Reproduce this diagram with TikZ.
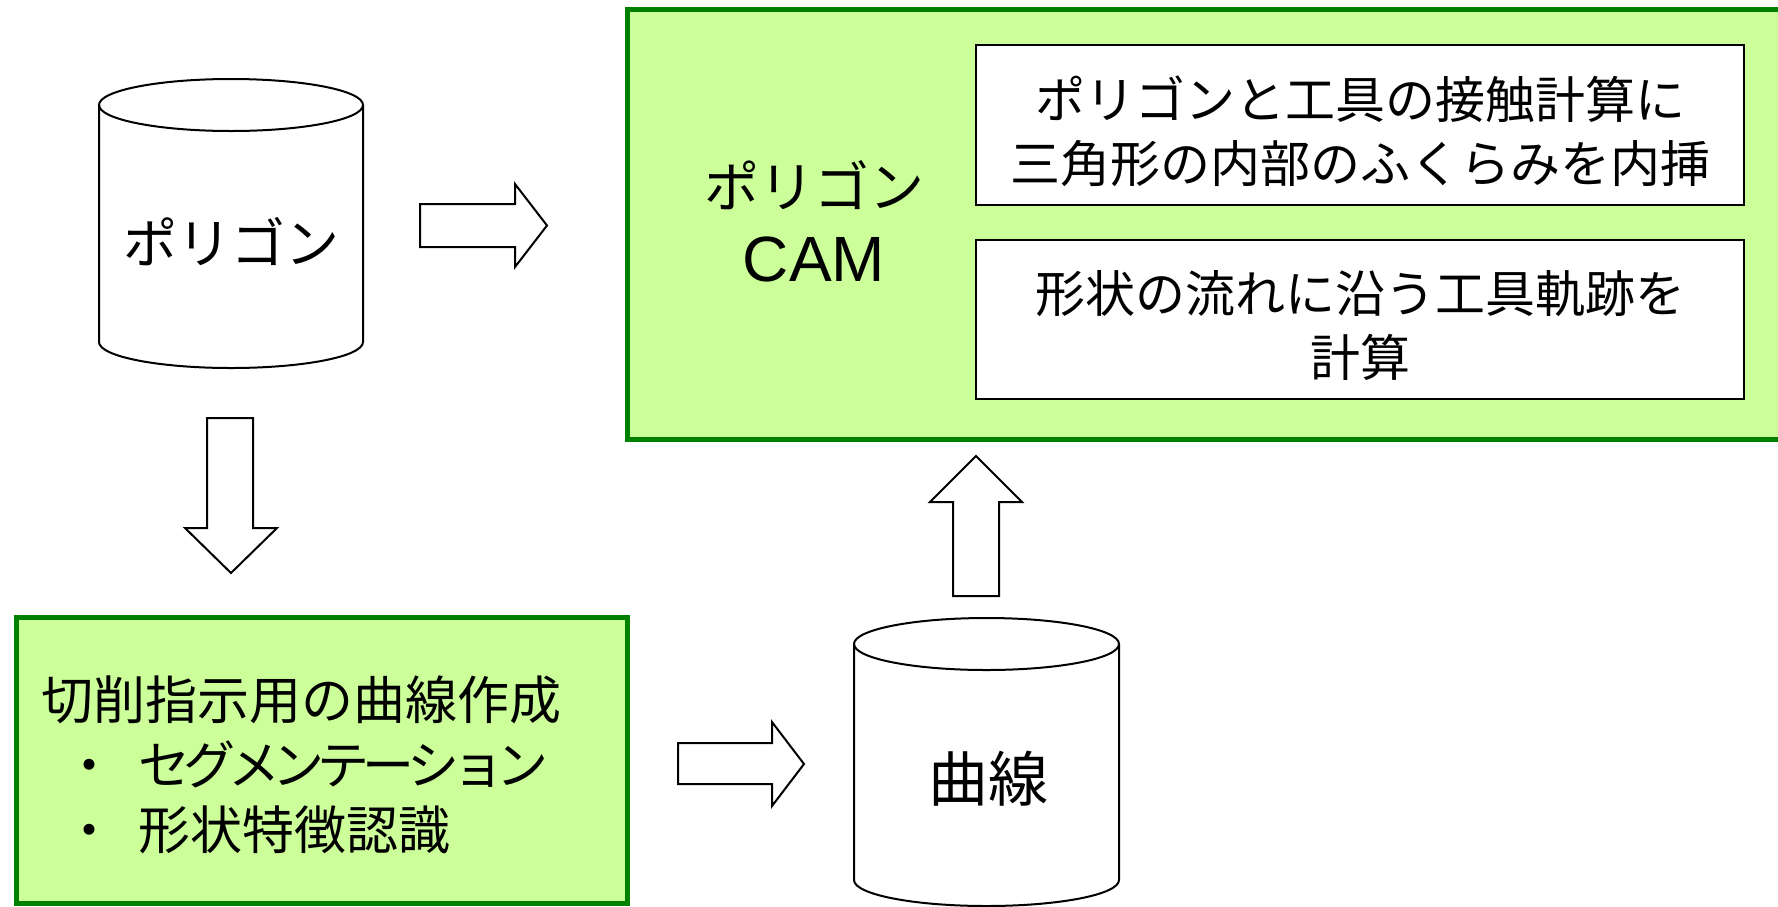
\documentclass[tikz,border=0pt]{standalone}
\usepackage{fontspec}
\setmainfont{Noto Sans CJK JP}
\newfontfamily\latfont{Liberation Sans}
\definecolor{boxgreen}{HTML}{CCFF99}
\definecolor{edgegreen}{HTML}{008000}
\newcommand\sqzk{\kern-3.6pt}
\begin{document}
\begin{tikzpicture}[x=0.5pt,y=-0.5pt,
  greenbox/.style={fill=boxgreen,draw=edgegreen,line width=2.5pt},
  whitebox/.style={fill=white,draw=black,line width=1pt},
  cyl/.style={draw=black,line width=1pt},
  blockarrow/.style={draw=black,line width=1pt,fill=white,line join=miter},
  txt/.style={inner sep=0pt,align=center},
  fs/.style={font=\fontsize{#1}{32}\selectfont}]
\clip (0,0) rectangle (1778,906);
\fill[white] (0,0) rectangle (1778,906);

% top green box
\draw[greenbox] (627,9) rectangle (1810,439);
\draw[whitebox] (976,45) rectangle (1744,205);
\draw[whitebox] (976,240) rectangle (1744,399);
\node[txt,font=\fontsize{27.5}{37}\selectfont] (pcam) at (814,221) {ポリゴン\\{\latfont\fontsize{32}{37}\selectfont CAM}};
\node[txt,fs=25] (contact) at (1360,131) {ポリゴンと工具の接触計算に\\三角形の内部のふくらみを内挿};
\node[txt,fs=25] (flow) at (1360,325) {形状の流れに沿う工具軌跡を\\計算};

% bottom-left green box
\draw[greenbox] (16,617) rectangle (627,903);
\node[inner sep=0pt,align=left,anchor=west,font=\fontsize{26}{32.5}\selectfont] (curvemake) at (41,765)
  {切削指示用の曲線作成\\\hspace*{11pt}・\hspace{11.5pt}セ\sqzk グ\sqzk メ\sqzk ン\sqzk テ\sqzk ー\sqzk シ\sqzk ョ\sqzk ン\\\hspace*{11pt}・\hspace{11.5pt}形状特徴認識};

% cylinder 1
\draw[cyl] (231,105) ellipse [x radius=132, y radius=26];
\draw[cyl] (99,105) -- (99,342) .. controls (99,356.4) and (158.1,368) .. (231,368)
  .. controls (303.9,368) and (363,356.4) .. (363,342) -- (363,105);
\node[txt,fs=27] (poly) at (231,242) {ポリゴン};

% cylinder 2
\draw[cyl] (986.5,644) ellipse [x radius=132.5, y radius=26];
\draw[cyl] (854,644) -- (854,880) .. controls (854,894.4) and (913.3,906) .. (986.5,906)
  .. controls (1059.7,906) and (1119,894.4) .. (1119,880) -- (1119,644);
\node[txt,fs=30] (curve) at (988,779) {曲線};

% block arrows
\draw[blockarrow] (420,204) -- (515,204) -- (515,184) -- (547,225.5) -- (515,267) -- (515,247) -- (420,247) -- cycle;
\draw[blockarrow] (207,418) -- (253,418) -- (253,528) -- (277,528) -- (231,573) -- (185,528) -- (207,528) -- cycle;
\draw[blockarrow] (678,743) -- (772,743) -- (772,722) -- (804,764) -- (772,806) -- (772,784) -- (678,784) -- cycle;
\draw[blockarrow] (953,596) -- (953,502) -- (930,502) -- (976,456) -- (1022,502) -- (999,502) -- (999,596) -- cycle;
\end{tikzpicture}
\end{document}
